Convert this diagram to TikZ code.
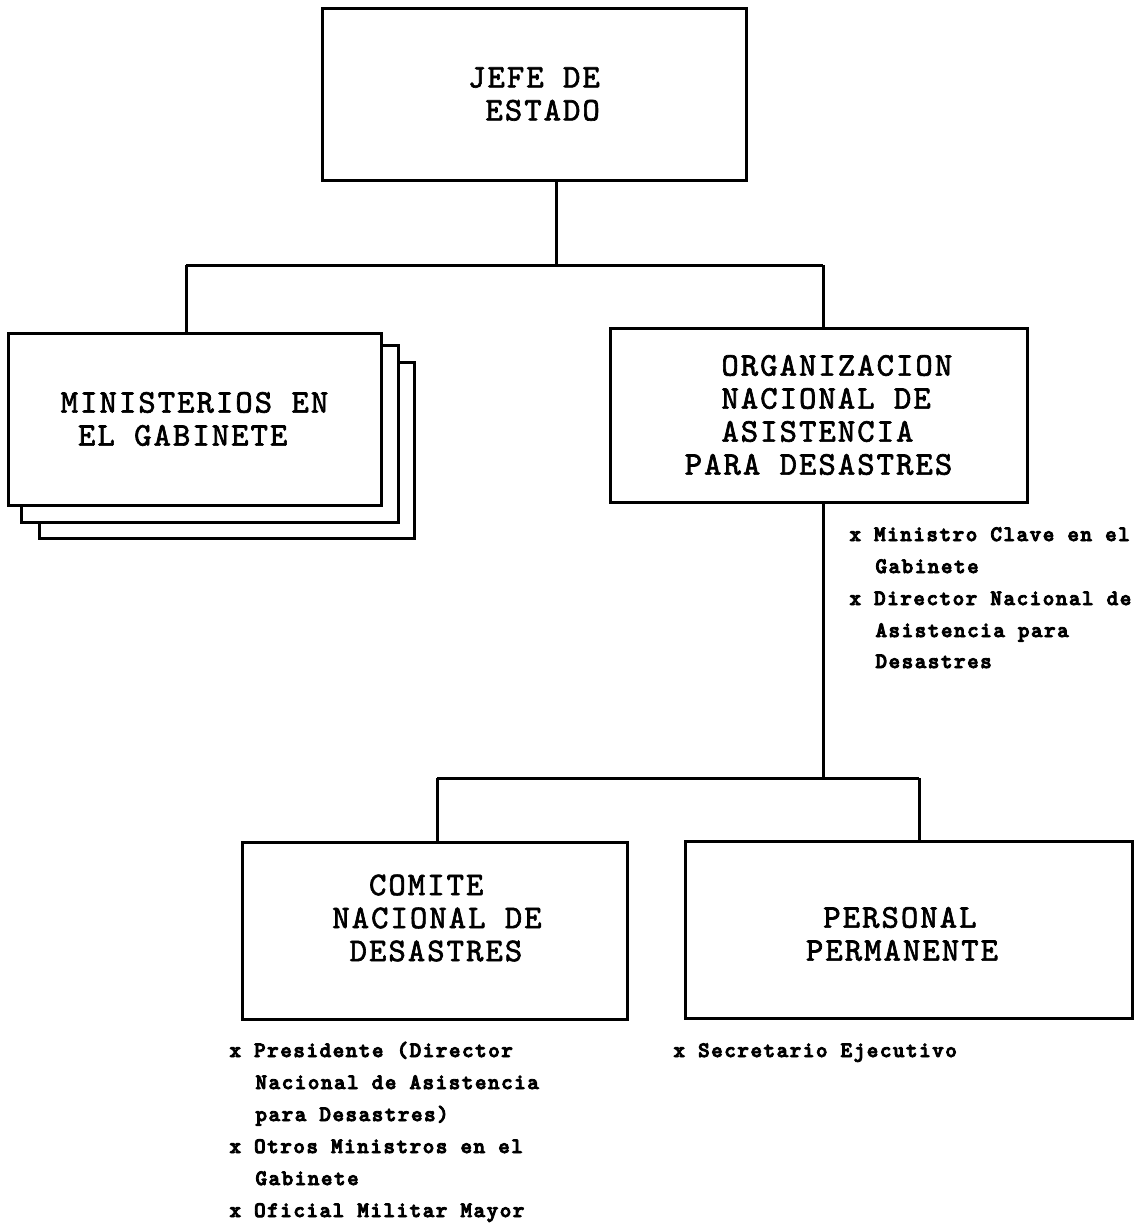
\documentclass[tikz,border=0pt]{standalone}
\usepackage{fontspec}
\newfontfamily\boxfont{lmmono10-regular.otf}[LetterSpace=6.3,FakeBold=2]
\newfontfamily\bulfont{lmmonolt10-bold.otf}[LetterSpace=7,FakeBold=4]
\begin{document}
\begin{tikzpicture}[x=0.5pt,y=-0.5pt,
  line width=1.5pt,
  orgbox/.style={draw=black, fill=white, line width=1.5pt, inner sep=0pt, align=left,
    font=\boxfont\fontsize{16.5pt}{16.5pt}\selectfont},
  boxtext/.style={inner sep=0pt, align=left, font=\boxfont\fontsize{16.5pt}{16.5pt}\selectfont},
  bul/.style={anchor=base west, inner sep=0pt, font=\bulfont\fontsize{11pt}{16pt}\selectfont}]
\useasboundingbox (0,0) rectangle (1138,1223);

% top box
\node[orgbox, minimum width=212pt, minimum height=86pt] (jefe) at (534,94)
  {JEFE DE\\\hphantom{X}ESTADO};

% ministerios stack
\node[orgbox, minimum width=187.5pt, minimum height=88pt] (min3) at (226.5,450) {};
\node[orgbox, minimum width=188.5pt, minimum height=88.5pt] (min2) at (209.5,433.5) {};
\node[orgbox, minimum width=186.5pt, minimum height=86pt] (min) at (194.5,419)
  {MINISTERIOS EN\\\hphantom{X}EL GABINETE};

% organizacion
\node[orgbox, minimum width=208.5pt, minimum height=87pt] (org) at (818.5,415)
  {\hphantom{XX}ORGANIZACION\\\hphantom{XX}NACIONAL DE\\\hphantom{XX}ASISTENCIA\\PARA DESASTRES};

% comite
\node[orgbox, minimum width=192.5pt, minimum height=88.5pt] (comite) at (434.5,930.5) {};
\node[boxtext] (comitetext) at (437,918)
  {\hphantom{XX}COMITE\\NACIONAL DE\\\hphantom{X}DESASTRES};

% personal
\node[orgbox, minimum width=223.5pt, minimum height=88.5pt] (personal) at (908.5,929.5) {};
\node[boxtext] (personaltext) at (902,934)
  {\hphantom{X}PERSONAL\\PERMANENTE};

% connectors top
\coordinate (j1) at (556,265);
\coordinate (hl) at (186,265);
\coordinate (hr) at (823,265);
\draw (jefe.south -| j1) -- (j1);
\draw (hl) -- (hr);
\draw (hl) -- (min.north -| hl);
\draw (hr) -- (org.north -| hr);

% connectors bottom
\coordinate (o1) at (823,778);
\coordinate (bl) at (437,778);
\coordinate (br) at (919,778);
\draw (org.south -| o1) -- (o1);
\draw (bl) -- (br);
\draw (bl) -- (comite.north -| bl);
\draw (br) -- (personal.north -| br);

% bullet lists
\node[bul] (r1) at (848,541) {x Ministro Clave en el};
\node[bul] (r2) at (874,573) {Gabinete};
\node[bul] (r3) at (848,605) {x Director Nacional de};
\node[bul] (r4) at (874,637) {Asistencia para};
\node[bul] (r5) at (874,668) {Desastres};

\node[bul] (l1) at (228,1057) {x Presidente (Director};
\node[bul] (l2) at (254,1089) {Nacional de Asistencia};
\node[bul] (l3) at (254,1121) {para Desastres)};
\node[bul] (l4) at (228,1153) {x Otros Ministros en el};
\node[bul] (l5) at (254,1185) {Gabinete};
\node[bul] (l6) at (228,1217) {x Oficial Militar Mayor};

\node[bul] (s1) at (672,1057) {x Secretario Ejecutivo};
\end{tikzpicture}
\end{document}
